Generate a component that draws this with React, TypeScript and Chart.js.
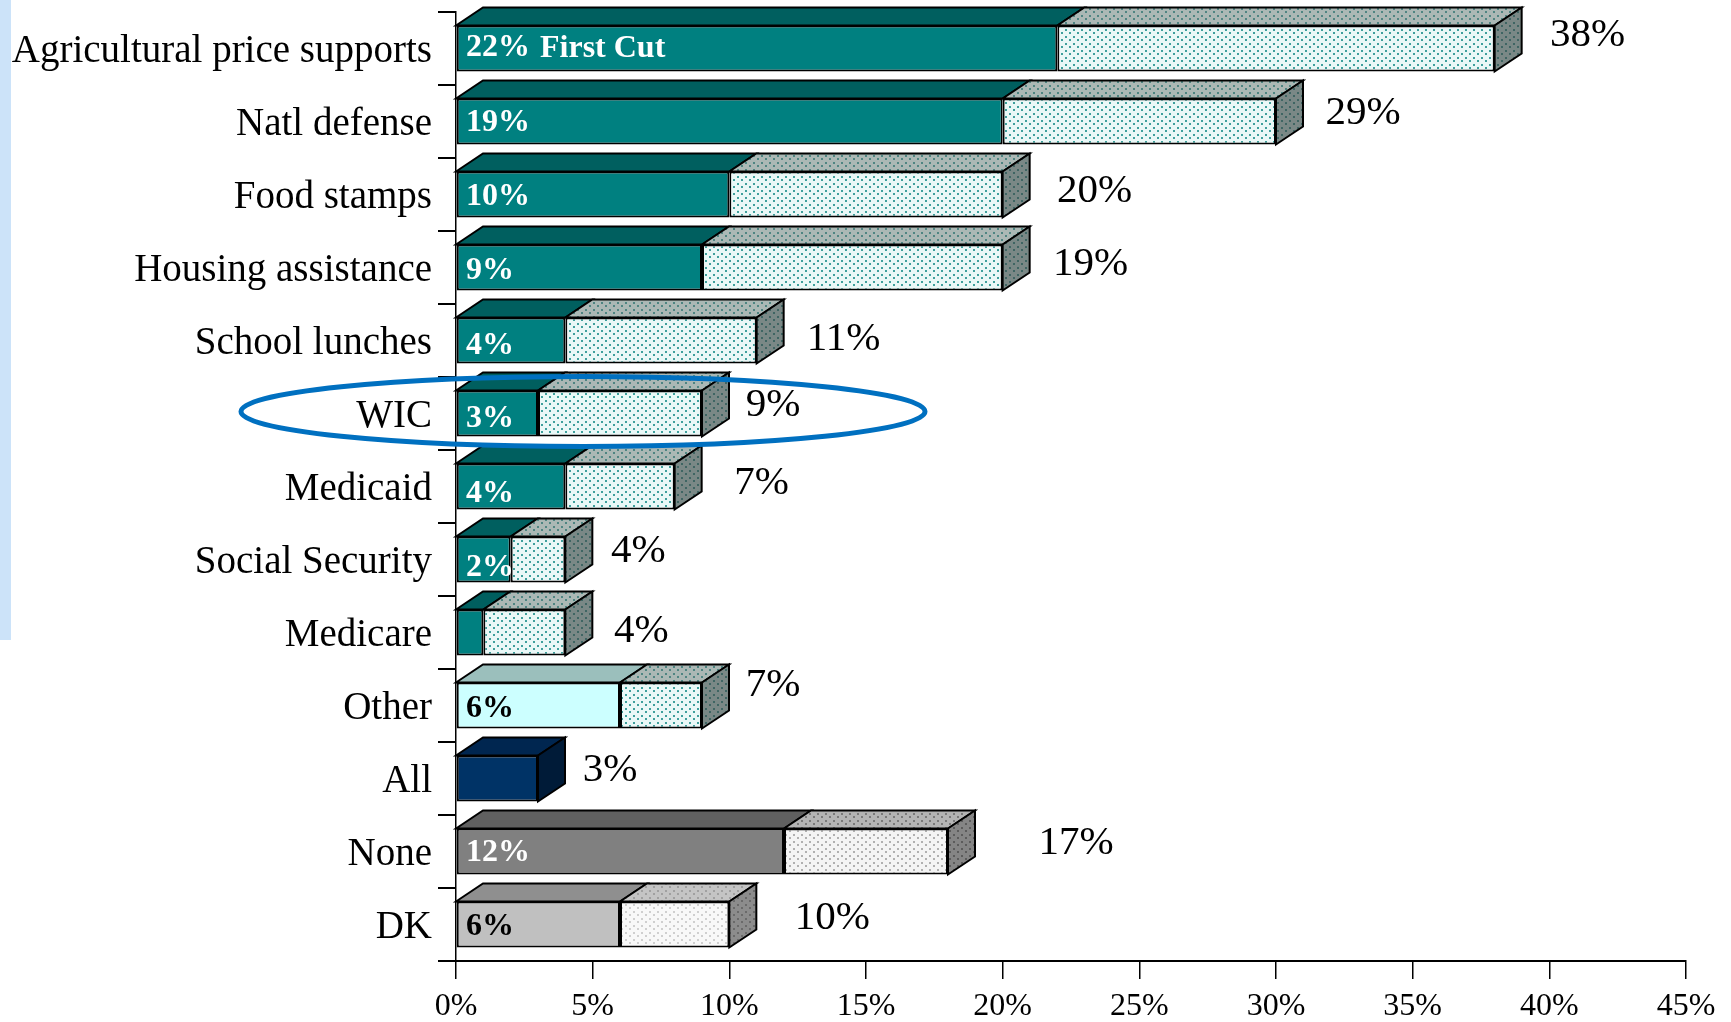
import React, { useEffect, useRef } from "react";
import { Chart, registerables } from "chart.js";

Chart.register(...registerables);

const categories = ["Agricultural price supports", "Natl defense", "Food stamps", "Housing assistance", "School lunches", "WIC", "Medicaid", "Social Security", "Medicare", "Other", "All", "None", "DK"];
const firstCut = [22, 20, 10, 9, 4, 3, 4, 2, 1, 6, 3, 12, 6];
const additional = [16, 10, 10, 11, 7, 6, 4, 2, 3, 3, null, 6, 4];
const firstCutLabels = ["22%", "19%", "10%", "9%", "4%", "3%", "4%", "2%", "", "6%", "", "12%", "6%"];
const totalLabels = ["38%", "29%", "20%", "19%", "11%", "9%", "7%", "4%", "4%", "7%", "3%", "17%", "10%"];
const xTicks = [0, 5, 10, 15, 20, 25, 30, 35, 40, 45];

// Styling tables (offsets in px relative to the bar end / band centre)
const totalLabelDx = [93, 87, 92, 88, 87, 71, 87, 73, 76, 71, 72, 128, 103];
const totalLabelDy = [-13, -8, -3, -3, -1, -8, -3, -8, -1, -20, -8, -8, -6];
const innerLabelDy = [-1, 1, 2, 3, 5, 5, 7, 8, 0, 3, 0, 1, 2];
const SERIF = '"Liberation Serif", "Times New Roman", serif';

function dots(bg: string, dot: string) {
  const c = document.createElement("canvas");
  c.width = 8;
  c.height = 7;
  const g = c.getContext("2d")!;
  g.fillStyle = bg;
  g.fillRect(0, 0, 8, 7);
  g.fillStyle = dot;
  g.fillRect(1, 1, 2, 2);
  g.fillRect(5, 4, 2, 2);
  return g.createPattern(c, "repeat")!;
}

export default function App() {
  const ref = useRef<HTMLCanvasElement>(null);
  useEffect(() => {
    document.body.style.margin = "0";
    const teal = { front: "#008080", top: "#005F5F", p: dots("#EAF8F7", "#3F9F9C"), pTop: dots("#ABB8B5", "#4F8582"), side: dots("#7A8886", "#3F6563") };
    const other = { ...teal, front: "#CCFFFF", top: "#9BBFBC" };
    const navy = { front: "#003366", top: "#002650", p: null as any, pTop: null as any, side: "#001B38" };
    const none = { front: "#808080", top: "#606060", p: dots("#F4F4F4", "#B0B0B0"), pTop: dots("#B4B4B4", "#7A7A7A"), side: dots("#858585", "#5C5C5C") };
    const dk = { front: "#C0C0C0", top: "#8F8F8F", p: dots("#F8F8F8", "#CFCFCF"), pTop: dots("#C4C4C4", "#A0A0A0"), side: dots("#8C8C8C", "#6A6A6A") };
    const looks = categories.map((_, i) => (i < 9 ? teal : i === 9 ? other : i === 10 ? navy : i === 11 ? none : dk));

    const DX = 27;
    const DY = 18;
    const poly = (ctx: CanvasRenderingContext2D, pts: number[][], fill: any) => {
      ctx.beginPath();
      pts.forEach((p, k) => (k ? ctx.lineTo(p[0], p[1]) : ctx.moveTo(p[0], p[1])));
      ctx.closePath();
      ctx.fillStyle = fill;
      ctx.fill();
      ctx.stroke();
    };

    const threeD = {
      id: "threeD",
      beforeDraw(chart: any) {
        const ctx = chart.ctx;
        ctx.save();
        ctx.fillStyle = "#CCE3F9";
        ctx.fillRect(0, 0, 11, 640);
        ctx.restore();
      },
      beforeDatasetsDraw(chart: any) {
        const ctx = chart.ctx;
        const m0 = chart.getDatasetMeta(0).data;
        const x = chart.scales.x;
        ctx.save();
        ctx.lineWidth = 2;
        ctx.strokeStyle = "#000";
        ctx.lineJoin = "miter";
        categories.forEach((_, i) => {
          const el = m0[i];
          const top = el.y - el.height / 2;
          const bot = el.y + el.height / 2;
          const a = x.getPixelForValue(0);
          const b = x.getPixelForValue(firstCut[i]);
          const e = x.getPixelForValue(firstCut[i] + (additional[i] ?? 0));
          const l = looks[i];
          poly(ctx, [[a, top], [a + DX, top - DY], [b + DX, top - DY], [b, top]], l.top);
          if (additional[i] != null) poly(ctx, [[b, top], [b + DX, top - DY], [e + DX, top - DY], [e, top]], l.pTop);
          poly(ctx, [[e, top], [e + DX, top - DY], [e + DX, bot - DY], [e, bot]], l.side);
        });
        ctx.restore();
      },
      afterDatasetsDraw(chart: any) {
        const ctx = chart.ctx;
        const x = chart.scales.x;
        const y = chart.scales.y;
        ctx.save();
        ctx.textBaseline = "middle";
        categories.forEach((_, i) => {
          const cy = y.getPixelForValue(i);
          const e = x.getPixelForValue(firstCut[i] + (additional[i] ?? 0));
          ctx.font = `41px ${SERIF}`;
          ctx.textAlign = "center";
          ctx.fillStyle = "#000";
          ctx.fillText(totalLabels[i], e + totalLabelDx[i], cy + totalLabelDy[i]);
          if (firstCutLabels[i]) {
            ctx.font = `bold 32px ${SERIF}`;
            ctx.textAlign = "left";
            ctx.fillStyle = i === 9 || i === 12 ? "#000" : "#fff";
            ctx.fillText(firstCutLabels[i], x.getPixelForValue(0) + 10, cy + innerLabelDy[i]);
          }
        });
        ctx.font = `bold 32px ${SERIF}`;
        ctx.textAlign = "left";
        ctx.fillStyle = "#fff";
        ctx.fillText("First Cut", x.getPixelForValue(0) + 84, y.getPixelForValue(0) + 0);
        // highlight ring around the WIC row
        ctx.beginPath();
        ctx.ellipse(583, y.getPixelForValue(5) - 2, 342, 35, 0, 0, Math.PI * 2);
        ctx.strokeStyle = "#0070C0";
        ctx.lineWidth = 5;
        ctx.stroke();
        ctx.restore();
      },
    };

    const chart = new Chart(ref.current!, {
      type: "bar",
      data: {
        labels: categories,
        datasets: [
          { label: "First Cut", data: firstCut, backgroundColor: looks.map((l) => l.front), borderColor: "#000", borderWidth: 2, borderSkipped: false, barPercentage: 0.63, categoryPercentage: 1 },
          { label: "Additional", data: additional as any, backgroundColor: looks.map((l) => l.p ?? "transparent"), borderColor: "#000", borderWidth: 2, borderSkipped: false, barPercentage: 0.63, categoryPercentage: 1 },
        ],
      },
      options: {
        indexAxis: "y",
        responsive: false,
        animation: false,
        layout: { padding: { top: 12, right: 45, left: 0, bottom: 0 } },
        plugins: { legend: { display: false }, tooltip: { enabled: false } },
        scales: {
          x: {
            stacked: true,
            min: 0,
            max: 45,
            afterBuildTicks(s: any) { s.ticks = xTicks.map((value) => ({ value })); },
            afterFit(s: any) { s.height = 61; s.paddingLeft = 0; s.paddingRight = 0; },
            grid: { drawOnChartArea: false, tickLength: 18, color: "#000", lineWidth: 1.5 },
            border: { color: "#000", width: 2 },
            ticks: { color: "#000", maxRotation: 0, autoSkip: false, padding: 8, font: { family: SERIF, size: 32 }, callback: (v: any) => `${v}%` },
          },
          y: {
            stacked: true,
            afterFit(s: any) { s.width = 456; s.paddingTop = 0; s.paddingBottom = 0; },
            grid: { drawOnChartArea: false, tickLength: 18, color: "#000", lineWidth: 2 },
            border: { color: "#000", width: 1.5 },
            ticks: { color: "#000", autoSkip: false, padding: 6, labelOffset: 3, font: { family: SERIF, size: 39 } },
          },
        },
      },
      plugins: [threeD],
    } as any);
    return () => chart.destroy();
  }, []);
  return <canvas ref={ref} width={1731} height={1022} style={{ display: "block" }} />;
}
